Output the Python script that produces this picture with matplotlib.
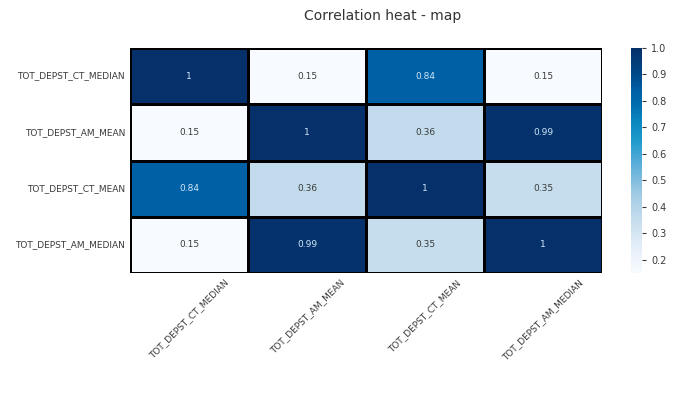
import matplotlib
matplotlib.use("Agg")
import matplotlib.pyplot as plt
import numpy as np
import seaborn as sns
from matplotlib.colors import LinearSegmentedColormap

labels = ["TOT_DEPST_CT_MEDIAN", "TOT_DEPST_AM_MEAN", "TOT_DEPST_CT_MEAN", "TOT_DEPST_AM_MEDIAN"]
corr_ct_median = [1.00, 0.15, 0.84, 0.15]
corr_am_mean = [0.15, 1.00, 0.36, 0.99]
corr_ct_mean = [0.84, 0.36, 1.00, 0.35]
corr_am_median = [0.15, 0.99, 0.35, 1.00]

data = np.array([corr_ct_median, corr_am_mean, corr_ct_mean, corr_am_median])

vmin, vmax = 0.15, 1.0
anchors = [(0.15, "#f7fbff"), (0.25, "#e4eef8"), (0.36, "#c2dbec"), (0.45, "#a0cae4"),
           (0.55, "#62b0da"), (0.65, "#1f9acb"), (0.72, "#0a88c0"), (0.80, "#0068aa"),
           (0.84, "#0060a6"), (0.90, "#004888"), (1.0, "#06306a")]
cmap = LinearSegmentedColormap.from_list(
    "ref", [((v - vmin) / (vmax - vmin), c) for v, c in anchors])

fig = plt.figure(figsize=(6.99, 3.96), dpi=100)
ax = fig.add_axes([130/699, 1-273/396, 472/699, 225/396])
cax = fig.add_axes([631/699, 1-273/396, 11/699, 225/396])

sns.heatmap(data, ax=ax, cbar_ax=cax, cmap=cmap, vmin=vmin, vmax=vmax,
            annot=True, fmt=".2g", annot_kws={"fontsize": 6.5},
            linewidths=0.8, linecolor="black",
            xticklabels=labels, yticklabels=labels)

for (i, j), t in zip(np.ndindex(data.shape), ax.texts):
    t.set_color("#cfe8f8" if data[i, j] > 0.6 else "#3a3a3a")

ax.tick_params(axis="both", length=0, labelsize=6.5, colors="#3a3a3a")
plt.setp(ax.get_xticklabels(), rotation=45, ha="center")
plt.setp(ax.get_yticklabels(), rotation=0)
cax.tick_params(labelsize=7, colors="#3a3a3a", length=3)
cax.set_yticks([0.2, 0.3, 0.4, 0.5, 0.6, 0.7, 0.8, 0.9, 1.0])

fig.text(383/699, 1-16/396, "Correlation heat - map", ha="center", va="center",
         fontsize=10, color="#333333")

fig.savefig("out.png", dpi=100)
